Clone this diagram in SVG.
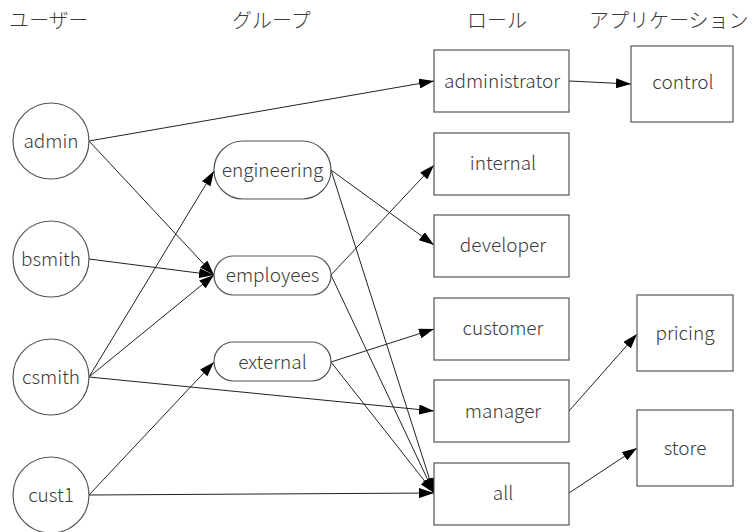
<svg xmlns="http://www.w3.org/2000/svg" width="755" height="532" viewBox="0 0 755 532">
  <style>
    .bg { fill: #ffffff; }
    .node { fill: #ffffff; stroke: #555555; stroke-width: 1.2; }
    .label { font-family: "Noto Sans CJK JP", "Noto Sans", sans-serif; font-size: 19px; font-weight: 300; fill: #3a3a3a; text-anchor: middle; }
    .head { font-family: "Noto Sans CJK JP", sans-serif; font-size: 20px; font-weight: 300; fill: #3a3a3a; }
    .edge { fill: none; stroke: #222222; stroke-width: 1; marker-end: url(#arrow); }
  </style>
  <defs>
    <marker id="arrow" markerUnits="userSpaceOnUse" markerWidth="15" markerHeight="10" refX="15" refY="5" orient="auto">
      <path d="M0,0 L15,5 L0,10 z" fill="#000000"/>
    </marker>
  </defs>
  <rect class="bg" x="0" y="0" width="755" height="532"/>

  <!-- column headings -->
  <g id="headings">
    <text class="head" x="9" y="28">ユーザー</text>
    <text class="head" x="232" y="28">グループ</text>
    <text class="head" x="467" y="28">ロール</text>
    <text class="head" x="589" y="28">アプリケーション</text>
  </g>

  <!-- connectors -->
  <g id="edges">
    <line class="edge" x1="89" y1="141" x2="434" y2="81"/>
    <line class="edge" x1="89" y1="141" x2="214" y2="275"/>
    <line class="edge" x1="89" y1="259" x2="214" y2="275"/>
    <line class="edge" x1="89" y1="377" x2="214" y2="171"/>
    <line class="edge" x1="89" y1="377" x2="214" y2="275"/>
    <line class="edge" x1="89" y1="377" x2="434" y2="411"/>
    <line class="edge" x1="89" y1="495" x2="214" y2="362"/>
    <line class="edge" x1="89" y1="495" x2="434" y2="493"/>
    <line class="edge" x1="331" y1="170" x2="434" y2="245"/>
    <line class="edge" x1="331" y1="170" x2="434" y2="493"/>
    <line class="edge" x1="331" y1="275" x2="434" y2="165"/>
    <line class="edge" x1="331" y1="275" x2="434" y2="493"/>
    <line class="edge" x1="331" y1="362" x2="434" y2="329"/>
    <line class="edge" x1="331" y1="362" x2="434" y2="493"/>
    <line class="edge" x1="569" y1="81" x2="631" y2="84"/>
    <line class="edge" x1="569" y1="411" x2="637" y2="334"/>
    <line class="edge" x1="569" y1="493" x2="637" y2="448"/>
  </g>

  <!-- users -->
  <g id="user-admin">
    <circle class="node" cx="51" cy="141" r="38"/>
    <text class="label" x="51" y="148">admin</text>
  </g>
  <g id="user-bsmith">
    <circle class="node" cx="51" cy="259" r="38"/>
    <text class="label" x="51" y="266">bsmith</text>
  </g>
  <g id="user-csmith">
    <circle class="node" cx="51" cy="377" r="38"/>
    <text class="label" x="51" y="384">csmith</text>
  </g>
  <g id="user-cust1">
    <circle class="node" cx="51" cy="495" r="38"/>
    <text class="label" x="51" y="502">cust1</text>
  </g>

  <!-- groups -->
  <g id="group-engineering">
    <rect class="node" x="214" y="141" width="117" height="58" rx="29" ry="29"/>
    <text class="label" x="272.5" y="177">engineering</text>
  </g>
  <g id="group-employees">
    <rect class="node" x="214" y="256" width="117" height="39" rx="19.5" ry="19.5"/>
    <text class="label" x="272.5" y="282">employees</text>
  </g>
  <g id="group-external">
    <rect class="node" x="214" y="342" width="117" height="39" rx="19.5" ry="19.5"/>
    <text class="label" x="272.5" y="369">external</text>
  </g>

  <!-- roles -->
  <g id="role-administrator">
    <rect class="node" x="434" y="50" width="135" height="62"/>
    <text class="label" x="502" y="88">administrator</text>
  </g>
  <g id="role-internal">
    <rect class="node" x="434" y="133" width="135" height="62"/>
    <text class="label" x="503" y="170">internal</text>
  </g>
  <g id="role-developer">
    <rect class="node" x="434" y="215" width="135" height="62"/>
    <text class="label" x="503" y="252">developer</text>
  </g>
  <g id="role-customer">
    <rect class="node" x="434" y="298" width="135" height="62"/>
    <text class="label" x="503" y="335">customer</text>
  </g>
  <g id="role-manager">
    <rect class="node" x="434" y="380" width="135" height="62"/>
    <text class="label" x="503" y="418">manager</text>
  </g>
  <g id="role-all">
    <rect class="node" x="434" y="463" width="135" height="62"/>
    <text class="label" x="503" y="500">all</text>
  </g>

  <!-- applications -->
  <g id="app-control">
    <rect class="node" x="631" y="46" width="102" height="76"/>
    <text class="label" x="683" y="89">control</text>
  </g>
  <g id="app-pricing">
    <rect class="node" x="637" y="295" width="96" height="76"/>
    <text class="label" x="685" y="340">pricing</text>
  </g>
  <g id="app-store">
    <rect class="node" x="637" y="410" width="96" height="76"/>
    <text class="label" x="685" y="455">store</text>
  </g>
</svg>
